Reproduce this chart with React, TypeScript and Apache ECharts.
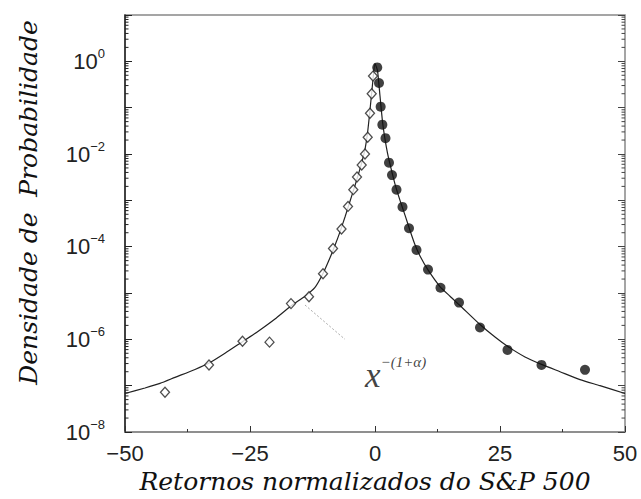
import React, { useEffect, useRef } from "react";
import * as echarts from "echarts";

// Open diamonds: negative normalized returns
const negReturns = [-0.4, -0.66, -1.0, -1.46, -2.0, -2.66, -3.6, -4.34, -5.4, -6.7, -8.4, -10.4, -13.2, -16.8, -21.1, -26.5, -33.2, -42.0];
const negDensity = [0.48, 0.2, 0.076, 0.023, 1.0e-2, 5.8e-3, 3.2e-3, 1.7e-3, 7.4e-4, 2.4e-4, 9.1e-5, 2.6e-5, 8.3e-6, 5.9e-6, 8.7e-7, 9.1e-7, 2.8e-7, 7.2e-8];

// Filled circles: positive normalized returns
const posReturns = [0.45, 0.8, 1.13, 1.47, 2.1, 2.8, 3.4, 4.3, 5.5, 6.8, 8.3, 10.6, 13.1, 16.8, 21.0, 26.5, 33.3, 42.0];
const posDensity = [0.74, 0.34, 0.105, 0.043, 0.022, 6.5e-3, 3.5e-3, 1.7e-3, 7.2e-4, 2.5e-4, 8.5e-5, 3.2e-5, 1.3e-5, 6.2e-6, 1.8e-6, 5.9e-7, 2.8e-7, 2.2e-7];

// Fitted curve, left branch (x < 0) and right branch (x >= 0)
const fitNegReturns = [-50, -46, -43, -40, -36, -33, -30, -26.5, -23.7, -20, -16.8, -14, -12, -10.4, -9, -8, -7, -6, -5, -4, -3, -2.5, -2, -1.5, -1, -0.5];
const fitNegDensity = [6.76e-8, 8.91e-8, 1.12e-7, 1.51e-7, 2.24e-7, 3.16e-7, 5.01e-7, 8.91e-7, 1.41e-6, 2.75e-6, 5.25e-6, 8.51e-6, 1.32e-5, 2.63e-5, 5.75e-5, 1.07e-4, 2.09e-4, 4.37e-4, 9.55e-4, 2.09e-3, 4.79e-3, 7.59e-3, 0.0126, 0.0282, 0.0891, 0.316];
const fitPosReturns = [0, 0.5, 1, 1.5, 2, 2.5, 3, 4, 5, 6, 7, 8, 9, 10.6, 13, 15, 17, 21, 24, 26.5, 30, 33.3, 37, 41, 45, 50];
const fitPosDensity = [0.891, 0.631, 0.178, 0.0501, 0.0209, 0.0105, 6.03e-3, 2.24e-3, 1.0e-3, 4.79e-4, 2.24e-4, 1.1e-4, 6.31e-5, 3.16e-5, 1.38e-5, 8.51e-6, 5.37e-6, 2.09e-6, 1.12e-6, 7.08e-7, 4.17e-7, 2.88e-7, 2.0e-7, 1.35e-7, 1.0e-7, 6.76e-8];

// Dotted power-law guide
const guideReturns = [-14, -6];
const guideDensity = [5.5e-6, 1.0e-6];

// Annotation anchor
const annotReturn = [-2];
const annotDensity = [1.62e-7];

// Axes
const xMin = -50;
const xMax = 50;
const xInterval = 25;
const yMin = 1e-8;
const yMax = 10;
const labelExponents = [0, -2, -4, -6, -8];
const decadeExponents = [-8, -7, -6, -5, -4, -3, -2, -1, 0];
const minorMultipliers = [2, 3, 4, 5, 6, 7, 8, 9];

const zip = (xs: number[], ys: number[]) => xs.map((x, i) => [x, ys[i]]);

export default function App() {
  const ref = useRef<HTMLDivElement>(null);
  useEffect(() => {
    if (!ref.current) return;
    const chart = echarts.init(ref.current, undefined, { renderer: "svg" });
    const minorValues: number[][] = [];
    decadeExponents.forEach((e) => minorMultipliers.forEach((m) => minorValues.push([xMin, m * Math.pow(10, e)])));

    const labelFont = "'Liberation Sans', Arial, sans-serif";
    const titleFont = "'DejaVu Serif', serif";

    const yLabelFormatter = (v: number) => {
      const e = Math.round(Math.log10(v));
      if (labelExponents.indexOf(e) < 0) return "";
      return `{b|10}{s|${e === 0 ? "0" : "\u2212" + -e}}`;
    };

    const fit = zip(fitNegReturns, fitNegDensity).concat(zip(fitPosReturns, fitPosDensity));

    chart.setOption({
      animation: false,
      backgroundColor: "#fff",
      grid: {
        left: 125,
        right: 16,
        top: 15,
        bottom: 67,
        show: true,
        borderColor: "#888",
        borderWidth: 1.5,
      },
      xAxis: {
        type: "value",
        min: xMin,
        max: xMax,
        interval: xInterval,
        name: "Retornos normalizados do S&P 500",
        nameLocation: "middle",
        nameGap: 36,
        nameTextStyle: {
          fontFamily: titleFont,
          fontStyle: "italic",
          fontSize: 25,
          color: "#111",
          padding: [0, 20, 0, 0],
        },
        axisLine: { show: true, onZero: false, lineStyle: { color: "#888", width: 1.5 } },
        axisTick: { show: true, inside: true, length: 6, lineStyle: { color: "#333" } },
        minorTick: { show: true, splitNumber: 2, length: 3, lineStyle: { color: "#333" } },
        splitLine: { show: false },
        axisLabel: {
          fontFamily: labelFont,
          fontSize: 22,
          color: "#222",
          margin: 10,
          formatter: (v: number) => (v < 0 ? "\u2212" + -v : String(v)),
        },
      },
      yAxis: [
        {
          type: "log",
          logBase: 10,
          min: yMin,
          max: yMax,
          splitNumber: 9,
          name: "Densidade de  Probabilidade",
          nameLocation: "middle",
          nameRotate: 90,
          nameGap: 84,
          nameTextStyle: {
            fontFamily: titleFont,
            fontStyle: "italic",
            fontSize: 25,
            color: "#111",
            padding: [0, 0, 0, 42],
          },
          axisLine: { show: true, onZero: false, lineStyle: { color: "#222", width: 1.5 } },
          axisTick: { show: true, inside: true, length: 7, lineStyle: { color: "#222" } },
          splitLine: { show: false },
          axisLabel: {
            margin: 20,
            formatter: yLabelFormatter,
            rich: {
              b: { fontFamily: labelFont, fontSize: 22, color: "#222" },
              s: { fontFamily: labelFont, fontSize: 13, color: "#222", padding: [0, 0, 16, 0] },
            },
          },
        },
        {
          type: "log",
          logBase: 10,
          min: yMin,
          max: yMax,
          splitNumber: 9,
          position: "right",
          axisLine: { show: false, onZero: false },
          axisTick: { show: true, inside: true, length: 7, lineStyle: { color: "#444" } },
          splitLine: { show: false },
          axisLabel: { show: false },
        },
      ],
      series: [
        {
          type: "custom",
          silent: true,
          data: minorValues,
          renderItem: (params: any, api: any) => {
            const v = api.value(1);
            const pl = api.coord([xMin, v]);
            const pr = api.coord([xMax, v]);
            return {
              type: "group",
              children: [
                { type: "line", shape: { x1: pl[0], y1: pl[1], x2: pl[0] + 3.5, y2: pl[1] }, style: { stroke: "#222", lineWidth: 1 } },
                { type: "line", shape: { x1: pr[0] - 3.5, y1: pr[1], x2: pr[0], y2: pr[1] }, style: { stroke: "#444", lineWidth: 1 } },
              ],
            };
          },
          z: 1,
        },
        {
          type: "line",
          data: fit,
          showSymbol: false,
          symbol: "none",
          smooth: 0.2,
          lineStyle: { color: "#222", width: 1.2 },
          z: 2,
        },
        {
          type: "line",
          data: zip(guideReturns, guideDensity),
          symbol: "none",
          lineStyle: { color: "#aaa", width: 1, type: [2, 2] },
          z: 2,
        },
        {
          type: "scatter",
          data: zip(negReturns, negDensity),
          symbol: "diamond",
          symbolSize: [9, 10],
          itemStyle: { color: "#fff", borderColor: "#222", borderWidth: 1.3 },
          z: 3,
        },
        {
          type: "scatter",
          data: zip(posReturns, posDensity),
          symbol: "circle",
          symbolSize: 10,
          itemStyle: { color: "#111" },
          z: 3,
        },
        {
          type: "scatter",
          data: zip(annotReturn, annotDensity),
          symbolSize: 0,
          silent: true,
          label: {
            show: true,
            position: "right",
            distance: 0,
            formatter: "{x|x}{s|\u2212(1+\u03b1)}",
            rich: {
              x: { fontFamily: "'Liberation Serif', serif", fontStyle: "italic", fontSize: 35, color: "#111" },
              s: { fontFamily: "'Liberation Serif', serif", fontStyle: "italic", fontSize: 15, color: "#111", padding: [0, 0, 28, 0] },
            },
          },
          z: 4,
        },
      ],
    });
    return () => chart.dispose();
  }, []);
  return <div ref={ref} style={{ position: "fixed", left: 0, top: 0, width: 641, height: 499 }} />;
}
